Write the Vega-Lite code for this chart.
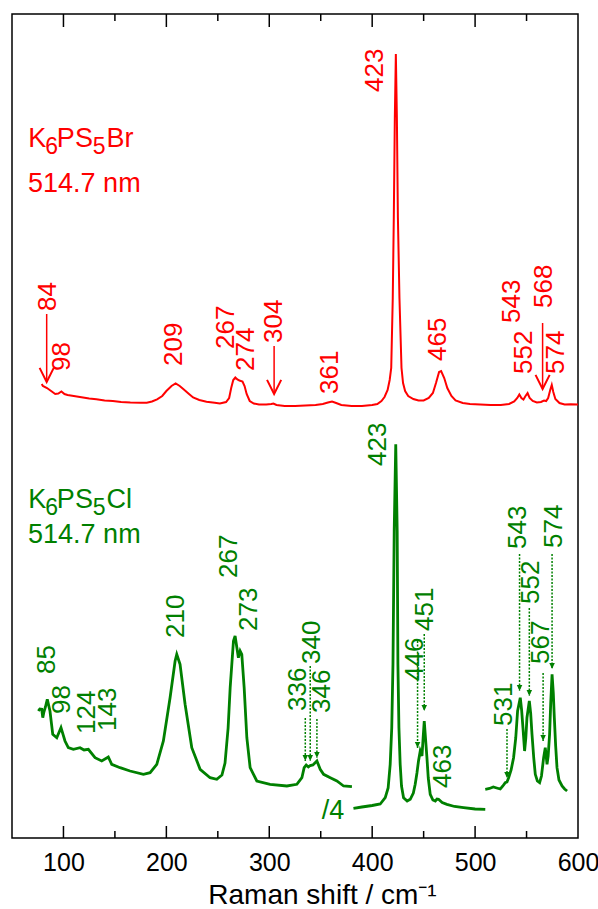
{
  "$schema": "https://vega.github.io/schema/vega-lite/v6.json",
  "width": 566,
  "height": 824,
  "padding": {"left": 12, "top": 13, "right": 2, "bottom": 2},
  "autosize": {"type": "pad"},
  "background": "white",
  "config": {
    "view": {"stroke": "black", "strokeWidth": 1.5},
    "font": "Liberation Sans"
  },
  "datasets": {
    "red": [
      {"x":78.9,"y":454},{"x":80,"y":452},{"x":84,"y":450},{"x":88,"y":447},{"x":92,"y":444},{"x":95,"y":444.5},{"x":98,"y":446.5},{"x":101,"y":444},{"x":104,"y":443},{"x":110,"y":442},{"x":116,"y":441},{"x":125,"y":439.5},{"x":132,"y":438.7},{"x":140,"y":437.5},{"x":148,"y":437},{"x":156,"y":436},{"x":165,"y":435.5},{"x":175,"y":435.3},{"x":181,"y":435.3},{"x":186,"y":436.5},{"x":191,"y":438.7},{"x":196,"y":442},{"x":200,"y":447},{"x":205,"y":452},{"x":209,"y":454.5},{"x":213,"y":452},{"x":217,"y":448.5},{"x":222,"y":444},{"x":226,"y":440.5},{"x":232,"y":438},{"x":239,"y":436.3},{"x":247,"y":435.3},{"x":252,"y":434.5},{"x":258,"y":436},{"x":261,"y":440},{"x":263,"y":450},{"x":265,"y":458},{"x":267,"y":460.5},{"x":269,"y":458.5},{"x":271,"y":457.5},{"x":274,"y":456.5},{"x":276,"y":452},{"x":278,"y":444},{"x":281,"y":437},{"x":285,"y":434.5},{"x":290,"y":433.5},{"x":297,"y":433.5},{"x":302,"y":434},{"x":304,"y":434.5},{"x":307,"y":433},{"x":315,"y":432},{"x":325,"y":432},{"x":335,"y":432.5},{"x":345,"y":433},{"x":352,"y":434},{"x":357,"y":435.5},{"x":361,"y":436.5},{"x":365,"y":435},{"x":370,"y":433},{"x":380,"y":432},{"x":390,"y":432},{"x":400,"y":433},{"x":405,"y":434},{"x":409,"y":437},{"x":412,"y":441},{"x":415,"y":448},{"x":417,"y":458},{"x":418.5,"y":470},{"x":420,"y":540},{"x":421,"y":620},{"x":422,"y":720},{"x":423,"y":784},{"x":424,"y":720},{"x":425,"y":620},{"x":426.5,"y":540},{"x":428.5,"y":470},{"x":430,"y":455},{"x":432,"y":447},{"x":435,"y":442},{"x":440,"y":439},{"x":445,"y":437.5},{"x":450,"y":437.5},{"x":455,"y":440},{"x":459,"y":445},{"x":462,"y":455},{"x":465,"y":466},{"x":467,"y":467},{"x":470,"y":460},{"x":473,"y":450},{"x":477,"y":442},{"x":481,"y":437.5},{"x":488,"y":435},{"x":495,"y":434},{"x":505,"y":433.5},{"x":515,"y":433},{"x":525,"y":433},{"x":533,"y":434},{"x":538,"y":436.5},{"x":541,"y":440},{"x":543,"y":443.5},{"x":545,"y":440},{"x":547,"y":438.5},{"x":549,"y":442},{"x":551,"y":445},{"x":553,"y":440},{"x":556,"y":437},{"x":560,"y":435.5},{"x":564,"y":436},{"x":567,"y":437.5},{"x":569,"y":437},{"x":571,"y":440},{"x":573,"y":448},{"x":574.5,"y":453},{"x":576,"y":446},{"x":578,"y":439},{"x":582,"y":435},{"x":587,"y":433.5},{"x":593,"y":433.7},{"x":600,"y":433.5}
    ],
    "green": [
      {"seg":1,"x":75.6,"y":127},{"seg":1,"x":77,"y":129},{"seg":1,"x":78.9,"y":128.7},{"seg":1,"x":79.9,"y":120.3},{"seg":1,"x":81,"y":126},{"seg":1,"x":82.5,"y":131},{"seg":1,"x":84.3,"y":138.7},{"seg":1,"x":86.9,"y":127},{"seg":1,"x":89.6,"y":103.7},{"seg":1,"x":93.5,"y":100.3},{"seg":1,"x":97.6,"y":110.3},{"seg":1,"x":101.5,"y":97},{"seg":1,"x":104.7,"y":90.3},{"seg":1,"x":109.6,"y":88.7},{"seg":1,"x":116.1,"y":90.3},{"seg":1,"x":120,"y":88},{"seg":1,"x":124.2,"y":88.7},{"seg":1,"x":130.7,"y":80.3},{"seg":1,"x":137.2,"y":77},{"seg":1,"x":143.6,"y":81},{"seg":1,"x":146.9,"y":73.7},{"seg":1,"x":155,"y":70.3},{"seg":1,"x":164.7,"y":67},{"seg":1,"x":177.7,"y":63.7},{"seg":1,"x":184.2,"y":65.3},{"seg":1,"x":190.7,"y":73.7},{"seg":1,"x":197.1,"y":97},{"seg":1,"x":203.6,"y":140.3},{"seg":1,"x":208.5,"y":177},{"seg":1,"x":210.1,"y":183.7},{"seg":1,"x":213.3,"y":173.7},{"seg":1,"x":218.2,"y":133.7},{"seg":1,"x":224.7,"y":90.3},{"seg":1,"x":232.8,"y":68.7},{"seg":1,"x":242.5,"y":60.3},{"seg":1,"x":249,"y":58.7},{"seg":1,"x":254,"y":63},{"seg":1,"x":257,"y":75},{"seg":1,"x":260,"y":110},{"seg":1,"x":262,"y":150.3},{"seg":1,"x":265.2,"y":197},{"seg":1,"x":266.8,"y":202},{"seg":1,"x":270,"y":180.3},{"seg":1,"x":271.7,"y":187},{"seg":1,"x":273.3,"y":183.7},{"seg":1,"x":275.6,"y":150.3},{"seg":1,"x":278.2,"y":100.3},{"seg":1,"x":281.4,"y":70.3},{"seg":1,"x":287.9,"y":57},{"seg":1,"x":300.8,"y":53.7},{"seg":1,"x":317.1,"y":52},{"seg":1,"x":326.8,"y":53.7},{"seg":1,"x":331.7,"y":60.3},{"seg":1,"x":333.9,"y":70.3},{"seg":1,"x":335.9,"y":73},{"seg":1,"x":338,"y":71},{"seg":1,"x":339.8,"y":72.5},{"seg":1,"x":342.4,"y":73},{"seg":1,"x":346.3,"y":77},{"seg":1,"x":349.5,"y":68.7},{"seg":1,"x":352.8,"y":63.7},{"seg":1,"x":359.3,"y":60.3},{"seg":1,"x":365.7,"y":57},{"seg":1,"x":372.2,"y":52},{"seg":1,"x":380.3,"y":51.3},
      {"seg":2,"x":381.8,"y":29.7},{"seg":2,"x":390,"y":31},{"seg":2,"x":400,"y":32.5},{"seg":2,"x":407.8,"y":34},{"seg":2,"x":412.7,"y":40.3},{"seg":2,"x":415.5,"y":50},{"seg":2,"x":417.5,"y":73.7},{"seg":2,"x":419,"y":110},{"seg":2,"x":420.2,"y":173.7},{"seg":2,"x":421.4,"y":307},{"seg":2,"x":422.9,"y":393.7},{"seg":2,"x":424.3,"y":307},{"seg":2,"x":425,"y":173.7},{"seg":2,"x":426,"y":110},{"seg":2,"x":427.2,"y":73.7},{"seg":2,"x":428.5,"y":52},{"seg":2,"x":430.5,"y":40.3},{"seg":2,"x":434,"y":37},{"seg":2,"x":437,"y":38.7},{"seg":2,"x":440,"y":45},{"seg":2,"x":441.8,"y":53.7},{"seg":2,"x":443.5,"y":65},{"seg":2,"x":445,"y":77},{"seg":2,"x":446.7,"y":87},{"seg":2,"x":448.4,"y":82},{"seg":2,"x":449.5,"y":100},{"seg":2,"x":450.6,"y":117},{"seg":2,"x":451.8,"y":100},{"seg":2,"x":453.2,"y":80.3},{"seg":2,"x":454.5,"y":60},{"seg":2,"x":456.4,"y":43.7},{"seg":2,"x":459,"y":38},{"seg":2,"x":461.3,"y":37},{"seg":2,"x":463,"y":39},{"seg":2,"x":464.5,"y":38.7},{"seg":2,"x":468,"y":35.5},{"seg":2,"x":472.6,"y":33.7},{"seg":2,"x":480,"y":31.5},{"seg":2,"x":488.8,"y":30.3},{"seg":2,"x":500,"y":29},{"seg":2,"x":509.9,"y":28.7},
      {"seg":3,"x":509.9,"y":48.7},{"seg":3,"x":514,"y":49.5},{"seg":3,"x":517.7,"y":51},{"seg":3,"x":521,"y":50},{"seg":3,"x":524.5,"y":49},{"seg":3,"x":527,"y":52},{"seg":3,"x":529.3,"y":55.3},{"seg":3,"x":531,"y":56},{"seg":3,"x":532.6,"y":60.3},{"seg":3,"x":535,"y":68},{"seg":3,"x":537.4,"y":80.3},{"seg":3,"x":539.5,"y":100},{"seg":3,"x":541.3,"y":127},{"seg":3,"x":543.9,"y":140.3},{"seg":3,"x":545.2,"y":128},{"seg":3,"x":546.5,"y":110.3},{"seg":3,"x":548.1,"y":87},{"seg":3,"x":549.3,"y":100},{"seg":3,"x":550.4,"y":120.3},{"seg":3,"x":552.7,"y":137},{"seg":3,"x":554,"y":125},{"seg":3,"x":555.3,"y":103.7},{"seg":3,"x":557,"y":80},{"seg":3,"x":558.5,"y":63.7},{"seg":3,"x":560.5,"y":57},{"seg":3,"x":562.7,"y":55.3},{"seg":3,"x":564.5,"y":62},{"seg":3,"x":566.6,"y":80.3},{"seg":3,"x":568.2,"y":90.3},{"seg":3,"x":569.9,"y":73.7},{"seg":3,"x":571,"y":82},{"seg":3,"x":572.4,"y":103.7},{"seg":3,"x":573.5,"y":135},{"seg":3,"x":574.8,"y":163.7},{"seg":3,"x":576,"y":145},{"seg":3,"x":577,"y":120.3},{"seg":3,"x":578.3,"y":92},{"seg":3,"x":579.6,"y":70.3},{"seg":3,"x":581.5,"y":58},{"seg":3,"x":584.5,"y":52},{"seg":3,"x":587,"y":49},{"seg":3,"x":589.4,"y":47}
    ],
    "peakLabels": [
      {"series":"Br","x":84.5,"y":527,"text":"84"},
      {"series":"Br","x":98.3,"y":467,"text":"98"},
      {"series":"Br","x":207,"y":472,"text":"209"},
      {"series":"Br","x":258,"y":489,"text":"267"},
      {"series":"Br","x":277.5,"y":467,"text":"274"},
      {"series":"Br","x":304.7,"y":495,"text":"304"},
      {"series":"Br","x":359,"y":444,"text":"361"},
      {"series":"Br","x":403,"y":746,"text":"423"},
      {"series":"Br","x":464.2,"y":477,"text":"465"},
      {"series":"Br","x":536,"y":515,"text":"543"},
      {"series":"Br","x":547.8,"y":464,"text":"552"},
      {"series":"Br","x":567.3,"y":530,"text":"568"},
      {"series":"Br","x":579,"y":464,"text":"574"},
      {"series":"Cl","x":84,"y":164,"text":"85"},
      {"series":"Cl","x":98.3,"y":124,"text":"98"},
      {"series":"Cl","x":122.6,"y":104,"text":"124"},
      {"series":"Cl","x":143.6,"y":107,"text":"143"},
      {"series":"Cl","x":209.4,"y":200,"text":"210"},
      {"series":"Cl","x":261,"y":260,"text":"267"},
      {"series":"Cl","x":280.4,"y":207,"text":"273"},
      {"series":"Cl","x":328.4,"y":127,"text":"336"},
      {"series":"Cl","x":341.4,"y":174,"text":"340"},
      {"series":"Cl","x":351.6,"y":125,"text":"346"},
      {"series":"Cl","x":405.9,"y":372,"text":"423"},
      {"series":"Cl","x":441.8,"y":157,"text":"446"},
      {"series":"Cl","x":451.5,"y":207,"text":"451"},
      {"series":"Cl","x":468.6,"y":50,"text":"463"},
      {"series":"Cl","x":527.7,"y":112,"text":"531"},
      {"series":"Cl","x":541.5,"y":289,"text":"543"},
      {"series":"Cl","x":554.6,"y":234,"text":"552"},
      {"series":"Cl","x":564.3,"y":174,"text":"567"},
      {"series":"Cl","x":577,"y":290,"text":"574"}
    ],
    "names": [
      {"series":"Br","x":65.6,"y":646,"text":"514.7 nm"},
      {"series":"Cl","x":65.6,"y":295,"text":"514.7 nm"},
      {"series":"Cl","x":351,"y":19,"text":"/4"}
    ],
    "formulaMain": [
      {"series":"Br","x":65.8,"y":691,"text":"K"},
      {"series":"Br","x":93.6,"y":691,"text":"PS"},
      {"series":"Br","x":141.8,"y":691,"text":"Br"},
      {"series":"Cl","x":65.8,"y":330,"text":"K"},
      {"series":"Cl","x":93.6,"y":330,"text":"PS"},
      {"series":"Cl","x":141.8,"y":330,"text":"Cl"}
    ],
    "formulaSub": [
      {"series":"Br","x":82.4,"y":684,"text":"6"},
      {"series":"Br","x":128.5,"y":684,"text":"5"},
      {"series":"Cl","x":82.4,"y":323,"text":"6"},
      {"series":"Cl","x":128.5,"y":323,"text":"5"}
    ],
    "redArrows": [
      {"x":83.7,"y":524,"y2":456},
      {"x":304.7,"y":492,"y2":444},
      {"x":565.6,"y":515,"y2":449}
    ],
    "greenArrows": [
      {"x":335,"y":120,"y2":77},
      {"x":339.8,"y":172,"y2":77},
      {"x":346.3,"y":119,"y2":80},
      {"x":444.1,"y":197,"y2":90},
      {"x":450.6,"y":204,"y2":127},
      {"x":531,"y":109,"y2":60},
      {"x":543.2,"y":284,"y2":147},
      {"x":552.7,"y":230,"y2":142},
      {"x":566.1,"y":165,"y2":97},
      {"x":574.8,"y":284,"y2":169}
    ],
    "axisTicks": [
      {"x":100,"y":0,"y2":12},{"x":200,"y":0,"y2":12},{"x":300,"y":0,"y2":12},{"x":400,"y":0,"y2":12},{"x":500,"y":0,"y2":12},
      {"x":150,"y":0,"y2":7},{"x":250,"y":0,"y2":7},{"x":350,"y":0,"y2":7},{"x":450,"y":0,"y2":7},{"x":550,"y":0,"y2":7},
      {"x":100,"y":824,"y2":811},{"x":200,"y":824,"y2":811},{"x":300,"y":824,"y2":811},{"x":400,"y":824,"y2":811},{"x":500,"y":824,"y2":811},
      {"x":150,"y":824,"y2":817},{"x":250,"y":824,"y2":817},{"x":350,"y":824,"y2":817},{"x":450,"y":824,"y2":817},{"x":550,"y":824,"y2":817}
    ]
  },
  "resolve": {"axis": {"x": "independent"}},
  "encoding": {
    "x": {"field": "x", "type": "quantitative", "scale": {"domain": [50, 600], "nice": false, "zero": false}, "axis": null}
  },
  "layer": [
    {
      "data": {"name": "red"},
      "mark": {"type": "line", "color": "#ff0000", "strokeWidth": 2},
      "encoding": {
        "x": {"field": "x", "type": "quantitative", "scale": {"domain": [50, 600], "nice": false, "zero": false},
          "axis": {
            "orient": "bottom",
            "values": [100,200,300,400,500,600],
            "ticks": false,
            "domain": false, "grid": false,
            "labelFontSize": 25, "labelColor": "black", "labelPadding": 12, "labelFlush": false, "labelOverlap": false,
            "labelFont": "Liberation Sans",
            "title": "Raman shift / cm⁻¹", "titleFontSize": 28, "titleFontWeight": "normal", "titleColor": "black",
            "titleFont": "Liberation Sans", "titlePadding": 6, "titleX": 310
          }
        },
        "y": {"field": "y", "type": "quantitative", "scale": {"domain": [0, 824], "nice": false, "zero": false}, "axis": null}
      }
    },
    {
      "data": {"name": "axisTicks"},
      "mark": {"type": "rule", "color": "#000000", "strokeWidth": 1.5},
      "encoding": {"y": {"field": "y", "type": "quantitative"}, "y2": {"field": "y2"}}
    },
    {
      "data": {"name": "green"},
      "mark": {"type": "line", "color": "#008000", "strokeWidth": 2.8},
      "encoding": {
        "y": {"field": "y", "type": "quantitative"},
        "detail": {"field": "seg", "type": "nominal"}
      }
    },
    {
      "data": {"name": "redArrows"},
      "mark": {"type": "rule", "color": "#ff0000", "strokeWidth": 1.5},
      "encoding": {"y": {"field": "y", "type": "quantitative"}, "y2": {"field": "y2"}}
    },
    {
      "data": {"name": "redArrows"},
      "mark": {"type": "point", "shape": "M-1,-2L0,0L1,-2", "filled": false, "color": "#ff0000", "strokeWidth": 2, "size": 200, "opacity": 1},
      "encoding": {"y": {"field": "y2", "type": "quantitative"}}
    },
    {
      "data": {"name": "greenArrows"},
      "mark": {"type": "rule", "color": "#008000", "strokeWidth": 1.5, "strokeDash": [2, 1.5]},
      "encoding": {"y": {"field": "y", "type": "quantitative"}, "y2": {"field": "y2"}}
    },
    {
      "data": {"name": "greenArrows"},
      "mark": {"type": "point", "shape": "M-1,-2.2L0,0L1,-2.2Z", "filled": true, "color": "#008000", "size": 30, "opacity": 1},
      "encoding": {"y": {"field": "y2", "type": "quantitative"}}
    },
    {
      "data": {"name": "peakLabels"},
      "mark": {"type": "text", "angle": 270, "align": "left", "baseline": "middle", "fontSize": 26, "font": "Liberation Sans"},
      "encoding": {
        "y": {"field": "y", "type": "quantitative"},
        "text": {"field": "text"},
        "color": {"field": "series", "type": "nominal", "scale": {"domain": ["Br", "Cl"], "range": ["#ff0000", "#008000"]}, "legend": null}
      }
    },
    {
      "data": {"name": "names"},
      "mark": {"type": "text", "align": "left", "baseline": "alphabetic", "fontSize": 27, "font": "Liberation Sans"},
      "encoding": {
        "y": {"field": "y", "type": "quantitative"},
        "text": {"field": "text"},
        "color": {"field": "series", "type": "nominal", "scale": {"domain": ["Br", "Cl"], "range": ["#ff0000", "#008000"]}, "legend": null}
      }
    },
    {
      "data": {"name": "formulaMain"},
      "mark": {"type": "text", "align": "left", "baseline": "alphabetic", "fontSize": 27, "font": "Liberation Sans"},
      "encoding": {
        "y": {"field": "y", "type": "quantitative"},
        "text": {"field": "text"},
        "color": {"field": "series", "type": "nominal", "scale": {"domain": ["Br", "Cl"], "range": ["#ff0000", "#008000"]}, "legend": null}
      }
    },
    {
      "data": {"name": "formulaSub"},
      "mark": {"type": "text", "align": "left", "baseline": "alphabetic", "fontSize": 23, "font": "Liberation Sans"},
      "encoding": {
        "y": {"field": "y", "type": "quantitative"},
        "text": {"field": "text"},
        "color": {"field": "series", "type": "nominal", "scale": {"domain": ["Br", "Cl"], "range": ["#ff0000", "#008000"]}, "legend": null}
      }
    }
  ]
}
